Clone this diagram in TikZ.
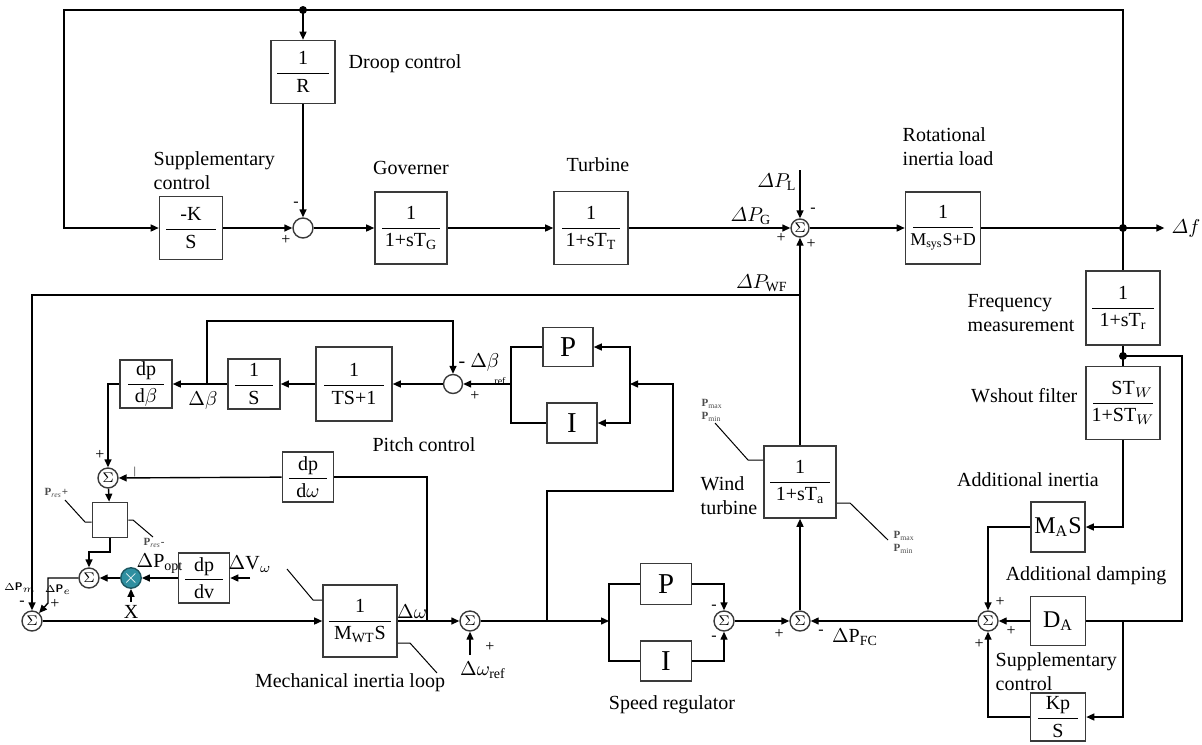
\documentclass[tikz,border=0pt]{standalone}
\usepackage{amsmath}
\usepackage{fontspec}
\setmainfont{Liberation Serif}
\usepackage{tikz}
\usetikzlibrary{arrows.meta,positioning,calc}
\definecolor{wire}{HTML}{3A3A3A}
\definecolor{multfill}{HTML}{2F8FA0}
\newcommand{\bfrac}[3][24pt]{$\displaystyle\frac{\hbox to #1{\hss#2\hss}}{\hbox to #1{\hss#3\hss}}$}

\begin{document}
\begin{tikzpicture}[x=0.5pt,y=-0.5pt, line width=0.7pt,
        >={Triangle[length=4pt,width=3.5pt]},
        blk/.style={draw=wire, fill=white, inner sep=0pt, line width=0.8pt},
        sumc/.style={draw=wire, circle, fill=white, minimum size=10pt, inner sep=0pt, font=\scriptsize},
        lbl/.style={align=left, inner sep=0pt},
        sgn/.style={font=\footnotesize, inner sep=0pt},
        lim lbl/.style={font=\fontsize{5.5}{6.5}\selectfont\bfseries, inner sep=0pt, align=left, text=black!70}]
        \useasboundingbox (0,0) rectangle (1202,744);

        % grid side
        \node[blk, minimum width=32pt, minimum height=31.5pt] (droop) at (303,72) {\bfrac[26pt]{1}{R}};
        \node[blk, minimum width=31.5pt, minimum height=31.5pt] (suppK) at (191,228) {\bfrac[25pt]{-K}{S}};
        \node[sumc, minimum size=10pt] (s0) at (303,228) {};
        \node[blk, minimum width=36pt, minimum height=36pt] (gov) at (411,228) {\bfrac[29pt]{1}{1+sT$_{\mathrm{G}}$}};
        \node[blk, minimum width=37pt, minimum height=36.5pt] (turb) at (591,228) {\bfrac[29pt]{1}{1+sT$_{\mathrm{T}}$}};
        \node[sumc, minimum size=9pt] (sG) at (800,228) {$\Sigma$};
        \node[blk, minimum width=37.5pt, minimum height=36pt] (load) at (943,228) {\bfrac[30pt]{1}{\small M$_{\mathrm{sys}}$S+D}};
        \node (df) at (1186,228) {$\varDelta f$};
        \node[blk, minimum width=37pt, minimum height=37pt] (fmeas) at (1123,308) {\bfrac[31pt]{1}{1+sT$_{\mathrm{r}}$}};
        \node[blk, minimum width=37pt, minimum height=36.5pt] (wash) at (1123,403) {\bfrac[30pt]{\hfill ST$_{W}$}{1+ST$_{W}$}};

        \coordinate (tl) at (64,10);
        \coordinate (tr) at (1123,10);
        \coordinate (tdot) at (303,10);
        \coordinate (fdot) at (1123,228);
        \coordinate (pl) at (800,170);
        \coordinate (wdot) at (1123,356);

        \node[lbl, anchor=west] at (348,64) {Droop control};
        \node[lbl, anchor=west] at (153,171) {Supplementary\\control};
        \node at (411,168) {Governer};
        \node at (598,165) {Turbine};
        \node[lbl, anchor=west] at (902,147) {Rotational\\inertia load};
        \node[lbl, anchor=west] at (967,313) {Frequency\\measurement};
        \node[lbl, anchor=east] at (1078,396) {Wshout filter};
        \node at (777,182) {$\varDelta P_{\mathrm{L}}$};
        \node at (751,216) {$\varDelta P_{\mathrm{G}}$};
        \node[sgn] at (296,204) {-};
        \node[sgn] at (286,240) {+};
        \node[sgn] at (813,210) {-};
        \node[sgn] at (781,238) {+};
        \node[sgn] at (811,244) {+};

        \draw[->] (fdot) -- (tr) -- (tl) |- (suppK);
        \draw[->] (tdot) -- (droop);
        \fill (tdot) circle (2pt);
        \draw[->] (droop) -- (s0);
        \draw[->] (suppK) -- (s0);
        \draw[->] (s0) -- (gov);
        \draw[->] (gov) -- (turb);
        \draw[->] (turb) -- (sG);
        \draw[->] (pl) -- (sG);
        \draw[->] (sG) -- (load);
        \draw[->] (load) -- (df);
        \fill (fdot) circle (2pt);
        \draw (fdot) -- (fmeas);
        \draw (fmeas) -- (wash);
        \fill (wdot) circle (2pt);

        % frequency control of the wind farm
        \node[blk, minimum width=27pt, minimum height=25pt, font=\large] (mas) at (1058,527) {M$_{\mathrm{A}}$S};
        \node[blk, minimum width=27.5pt, minimum height=24.5pt, font=\large] (da) at (1058,621) {D$_{\mathrm{A}}$};
        \node[blk, minimum width=27.5pt, minimum height=24pt] (kp) at (1058,717) {\bfrac[20pt]{Kp}{S}};
        \node[sumc] (sFC) at (988,621) {$\Sigma$};
        \coordinate (rc) at (1182,621);
        \coordinate (jd) at (1123,621);

        \node at (1028,480) {Additional inertia};
        \node at (1086,576) {Additional damping};
        \node[lbl, anchor=west] at (995,672) {Supplementary\\control};
        \node[sgn] at (1000,602) {+};
        \node[sgn] at (1011,631) {+};
        \node[sgn] at (979,644) {+};

        \draw (wdot) -| (rc) -- (da);
        \draw[->] (wash) |- (mas);
        \draw[->] (mas) -| (sFC);
        \draw[->] (da) -- (sFC);
        \draw[->] (jd) |- (kp);
        \draw[->] (kp) -| (sFC);

        \node[sumc] (sWT) at (800,621) {$\Sigma$};
        \node[blk, minimum width=36pt, minimum height=36pt] (wt) at (800,482) {\bfrac[30pt]{1}{1+sT$_{\mathrm{a}}$}};
        \node[sumc] (sSR) at (724,621) {$\Sigma$};
        \node[blk, minimum width=25.5pt, minimum height=20.5pt, font=\Large] (spP) at (666,584) {P};
        \node[blk, minimum width=25.5pt, minimum height=20pt, font=\Large] (spI) at (666,661) {I};
        \coordinate (spin) at (609,621);
        \coordinate (wfj) at (800,295);

        \node[lbl, anchor=west] at (700,496) {Wind\\turbine};
        \node at (672,705) {Speed regulator};
        \node at (855,637) {$\Delta$P$_{\mathrm{FC}}$};
        \node[anchor=east] at (795,283) {$\varDelta P_{\mathrm{WF}}$};
        \node[sgn] at (821,632) {-};
        \node[sgn] at (779,634) {+};
        \node[sgn] at (714,607) {-};
        \node[sgn] at (714,638) {-};
        \node[lim lbl, anchor=west] at (701,410) {P$_{\max}$\\P$_{\min}$};
        \node[lim lbl, anchor=west] at (893,542) {P$_{\max}$\\P$_{\min}$};
        \draw[line width=0.5pt] (wt.west |- 0,460) -- (748,460) -- (715,423);
        \draw[line width=0.5pt] (wt.east |- 0,503) -- (850,503) -- (888,540);

        % wind turbine mechanics and pitch control
        \node[sumc] (s1) at (32,621) {$\Sigma$};
        \node[sumc] (s2) at (89,578) {$\Sigma$};
        \node[sumc] (s3) at (108,478) {$\Sigma$};
        \node[circle, draw=multfill!60!black, fill=multfill, minimum size=10pt, inner sep=0pt, text=white] (mult) at (131,578) {$\times$};
        \node[blk, minimum width=17.5pt, minimum height=17.5pt] (lim) at (110,520) {};
        \node[blk, minimum width=25.5pt, minimum height=25pt] (dpdv) at (204,578) {\bfrac[19pt]{dp}{dv}};
        \node[blk, minimum width=25.5pt, minimum height=25pt] (dpdw) at (308,477) {\bfrac[19pt]{dp}{d$\omega$}};
        \node[blk, minimum width=26pt, minimum height=24pt] (dpdb) at (146,384) {\bfrac[18pt]{dp}{d$\beta$}};
        \node[blk, minimum width=26pt, minimum height=25pt] (ints) at (254,384) {\bfrac[19pt]{1}{S}};
        \node[blk, minimum width=38pt, minimum height=37pt] (pitchlag) at (354,384) {\bfrac[30pt]{1}{TS+1}};
        \node[sumc, minimum size=9.5pt] (sB) at (453,384) {};
        \node[blk, minimum width=25pt, minimum height=19.5pt, font=\Large] (pP) at (568,347) {P};
        \node[blk, minimum width=25pt, minimum height=20pt, font=\Large] (pI) at (572,423) {I};
        \node[blk, minimum width=37pt, minimum height=36pt] (mwt) at (360,621) {\bfrac[31pt]{1}{M$_{\mathrm{WT}}$S}};
        \node[sumc] (sW) at (470,621) {$\Sigma$};
        \coordinate (e1) at (48,603);
        \coordinate (e2) at (110,552);
        \coordinate (vin) at (250,578);
        \coordinate (xin) at (131,602);
        \coordinate (bj) at (207,384);
        \coordinate (bt) at (207,321);
        \coordinate (pj) at (511,384);
        \coordinate (pin) at (630,384);
        \coordinate (c1) at (673,491);
        \coordinate (swj) at (547,621);
        \coordinate (wj) at (427,621);
        \coordinate (wref) at (470,655);

        \node at (424,445) {Pitch control};
        \node at (350,683) {Mechanical inertia loop};
        \node at (203,400) {$\Delta\beta$};
        \node at (479,362) {- $\Delta\beta$};
        \node[font=\tiny] at (500,381) {ref};
        \node[sgn] at (475,396) {+};
        \node[sgn] at (100,455) {+};
        \node[font=\tiny] at (135,472) {$|$};
        \node at (412,612) {$\Delta\omega$};
        \node at (483,670) {$\Delta\omega_{\mathrm{ref}}$};
        \node[sgn] at (490,647) {+};
        \node at (160,564) {$\Delta$P$_{\mathrm{opt}}$};
        \node at (250,564) {$\Delta$V$_{\omega}$};
        \node at (131,612) {X};
        \node[font=\sffamily\bfseries\fontsize{5.5}{6}\selectfont] at (20,588) {$\Delta$P$_{m}$};
        \node[sgn] at (22,603) {-};
        \node[font=\sffamily\bfseries\fontsize{5.5}{6}\selectfont] at (58,590) {$\Delta$P$_{e}$};
        \node[sgn] at (55,604) {+};
        \node[lim lbl, anchor=west] at (44,493) {P$_{\mathit{res}}$+};
        \node[lim lbl, anchor=west] at (143,543) {P$_{\mathit{res}}$-};
        \draw[line width=0.5pt] (lim.west |- 0,522) -- (85,522) -- (65,500);
        \draw[line width=0.5pt] (lim.east |- 0,520) -- (133,520) -- (153,537);
        \draw[line width=0.5pt] (mwt.west |- 0,600) -- (313,600) -- (287,569);
        \draw[line width=0.5pt] (mwt.east |- 0,643) -- (410,643) -- (437,673);

        \draw[->] (sFC) -- (sWT);
        \draw[->] (sSR) -- (sWT);
        \draw[->] (sWT) -- (wt);
        \draw[->] (wt) -- (sG);
        \draw[->] (wfj) -| (s1);
        \draw[->] (s1) -- (mwt);
        \draw (mwt) -- (wj);
        \draw[->] (wj) -- (sW);
        \draw (wj) |- (dpdw);
        \draw[->] (wref) -- (sW);
        \draw[->] (sW) -- (spin);
        \draw (spin) |- (spP);
        \draw (spin) |- (spI);
        \draw[->] (spP) -| (sSR);
        \draw[->] (spI) -| (sSR);
        \draw[->] (swj) |- (c1) |- (pin);
        \draw[->] (pin) |- (pP);
        \draw[->] (pin) |- (pI);
        \draw (pP) -| (pj);
        \draw (pI) -| (pj);
        \draw[->] (pj) -- (sB);
        \draw[->] (sB) -- (pitchlag);
        \draw[->] (pitchlag) -- (ints);
        \draw[->] (ints) -- (dpdb);
        \draw[->] (bj) -- (bt) -| (sB);
        \draw[->] (dpdb) -| (s3);
        \draw[->] (dpdw) -- (s3);
        \draw[->] (s3) -- (lim);
        \draw[->] (lim) -- (e2) -| (s2);
        \draw[->] (vin) -- (dpdv);
        \draw[->] (dpdv) -- (mult);
        \draw[->] (xin) -- (mult);
        \draw[->] (mult) -- (s2);
        \draw[->] (s2) -| (e1) -- (s1);
    \end{tikzpicture}
\end{document}
